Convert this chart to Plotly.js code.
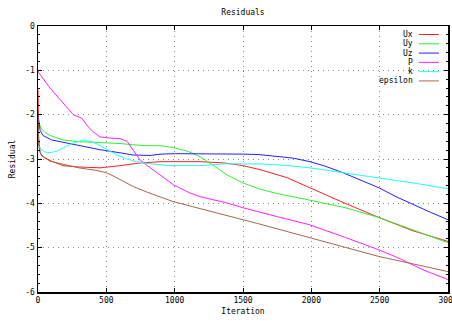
<!DOCTYPE html>
<html>
<head>
<meta charset="utf-8">
<script src="https://cdn.plot.ly/plotly-3.0.1.min.js"></script>
<style>html,body{margin:0;padding:0;background:#fff}#chart{width:452px;height:321px}</style>
</head>
<body>
<div id="chart"></div>
<script>
// Series names and colours
const seriesNames = ["Ux", "Uy", "Uz", "P", "k", "epsilon"];
const seriesColors = ["#ff2020", "#33ee33", "#2020ff", "#ff20ff", "#20ffff", "#a8684a"];

// Iteration / residual (log10) values
const uxIter = [0, 5, 15, 37, 100, 183, 300, 453, 600, 746, 900, 1000, 1185, 1368, 1500, 1624, 1822, 1990, 2232, 2495, 2744, 3000];
const uxRes  = [-1.45, -2.5, -2.85, -2.95, -3.05, -3.15, -3.18, -3.2, -3.15, -3.09, -3.06, -3.06, -3.06, -3.09, -3.15, -3.24, -3.42, -3.65, -3.98, -4.32, -4.62, -4.86];

const uyIter = [0, 20, 50, 88, 183, 300, 453, 600, 696, 800, 893, 988, 1100, 1185, 1258, 1383, 1500, 1624, 1750, 1866, 1990, 2250, 2495, 2744, 3000];
const uyRes  = [-2.1, -2.3, -2.4, -2.47, -2.57, -2.61, -2.63, -2.65, -2.68, -2.70, -2.70, -2.74, -2.83, -2.95, -3.09, -3.36, -3.54, -3.68, -3.78, -3.85, -3.93, -4.1, -4.32, -4.6, -4.89];

const uzIter = [0, 15, 37, 100, 212, 330, 453, 600, 696, 820, 900, 1000, 1200, 1383, 1500, 1617, 1749, 1866, 1990, 2100, 2232, 2360, 2495, 2620, 2744, 2870, 3000];
const uzRes  = [-2.0, -2.35, -2.47, -2.57, -2.64, -2.72, -2.79, -2.86, -2.91, -2.92, -2.89, -2.88, -2.88, -2.88, -2.89, -2.9, -2.95, -2.98, -3.06, -3.16, -3.31, -3.48, -3.65, -3.85, -4.03, -4.2, -4.37];

const pIter = [0, 5, 88, 185, 258, 320, 356, 400, 453, 530, 600, 651, 696, 746, 800, 870, 990, 1100, 1185, 1368, 1500, 1750, 1983, 2250, 2495, 2650, 2817, 3000];
const pRes  = [-1.0, -1.05, -1.40, -1.74, -2.0, -2.08, -2.23, -2.38, -2.5, -2.53, -2.54, -2.6, -2.8, -3.02, -3.15, -3.31, -3.58, -3.75, -3.85, -3.98, -4.1, -4.3, -4.48, -4.77, -5.05, -5.25, -5.5, -5.72];

const kIter = [0, 5, 20, 50, 88, 140, 183, 250, 330, 380, 432, 500, 578, 651, 720, 797, 893, 966, 1185, 1368, 1624, 1800, 1990, 2232, 2495, 2744, 3000];
const kRes  = [-2.3, -2.7, -2.78, -2.84, -2.86, -2.82, -2.75, -2.65, -2.57, -2.6, -2.66, -2.78, -2.91, -3.0, -3.06, -3.1, -3.13, -3.15, -3.15, -3.11, -3.11, -3.14, -3.2, -3.31, -3.42, -3.54, -3.67];

const epsIter = [0, 5, 20, 37, 88, 183, 300, 432, 500, 549, 620, 696, 800, 988, 1200, 1368, 1600, 1983, 2250, 2495, 2750, 3000];
const epsRes  = [-1.9, -2.7, -2.9, -2.95, -3.05, -3.12, -3.2, -3.26, -3.31, -3.38, -3.5, -3.62, -3.75, -3.96, -4.13, -4.26, -4.45, -4.77, -4.99, -5.2, -5.37, -5.54];

const xTicks = [0, 500, 1000, 1500, 2000, 2500, 3000];
const yTicks = [0, -1, -2, -3, -4, -5, -6];

const xs = [uxIter, uyIter, uzIter, pIter, kIter, epsIter];
const ys = [uxRes, uyRes, uzRes, pRes, kRes, epsRes];

const FONT = "DejaVu Sans Mono, monospace";
const traces = seriesNames.map((n, i) => ({
  type: "scatter", mode: "lines", name: n, x: xs[i], y: ys[i],
  line: {color: seriesColors[i], width: 1}, showlegend: false
}));

// Custom legend (text right-aligned, sample line to the right), gnuplot style
const annotations = [];
const shapes = [];
const row0 = 0.968, rowStep = 0.0349;
seriesNames.forEach((n, i) => {
  const yy = row0 - i * rowStep;
  annotations.push({xref: "paper", yref: "paper", x: 0.918, y: yy, xanchor: "right", yanchor: "middle",
    text: n, showarrow: false, borderpad: 0, font: {family: FONT, size: 8, color: "#000"}});
  shapes.push({type: "line", xref: "paper", yref: "paper", x0: 0.929, x1: 0.978, y0: yy, y1: yy,
    line: {color: seriesColors[i], width: 1}});
});

const axisCommon = {
  showline: true, linecolor: "#000", linewidth: 1.5, mirror: "allticks",
  ticks: "inside", ticklen: 4, tickcolor: "#000", tickwidth: 1,
  showgrid: true, gridcolor: "#888", griddash: "1px,4px", gridwidth: 1,
  zeroline: false, ticklabeloverflow: "allow",
  tickfont: {family: FONT, size: 8, color: "#000"}
};

const layout = {
  width: 452, height: 321,
  margin: {l: 38, r: 4, t: 26, b: 28.5},
  paper_bgcolor: "#fff", plot_bgcolor: "#fff",
  title: {text: "Residuals", x: 0.5, xref: "paper", y: 0.962, yref: "container", yanchor: "middle",
    font: {family: FONT, size: 8, color: "#000"}},
  xaxis: Object.assign({}, axisCommon, {
    range: [0, 3000], tickvals: xTicks, ticktext: xTicks.map(String),
    title: {text: "Iteration", standoff: 4, font: {family: FONT, size: 8, color: "#000"}}
  }),
  yaxis: Object.assign({}, axisCommon, {
    range: [-6, 0], tickvals: yTicks, ticktext: yTicks.map(String),
    minor: {dtick: 0.2, ticks: "inside", ticklen: 2, tickcolor: "#000", showgrid: false},
    title: {text: "Residual", standoff: 8, font: {family: FONT, size: 8, color: "#000"}}
  }),
  annotations: annotations,
  shapes: shapes
};

Plotly.newPlot("chart", traces, layout, {displayModeBar: false, staticPlot: true});
</script>
</body>
</html>
